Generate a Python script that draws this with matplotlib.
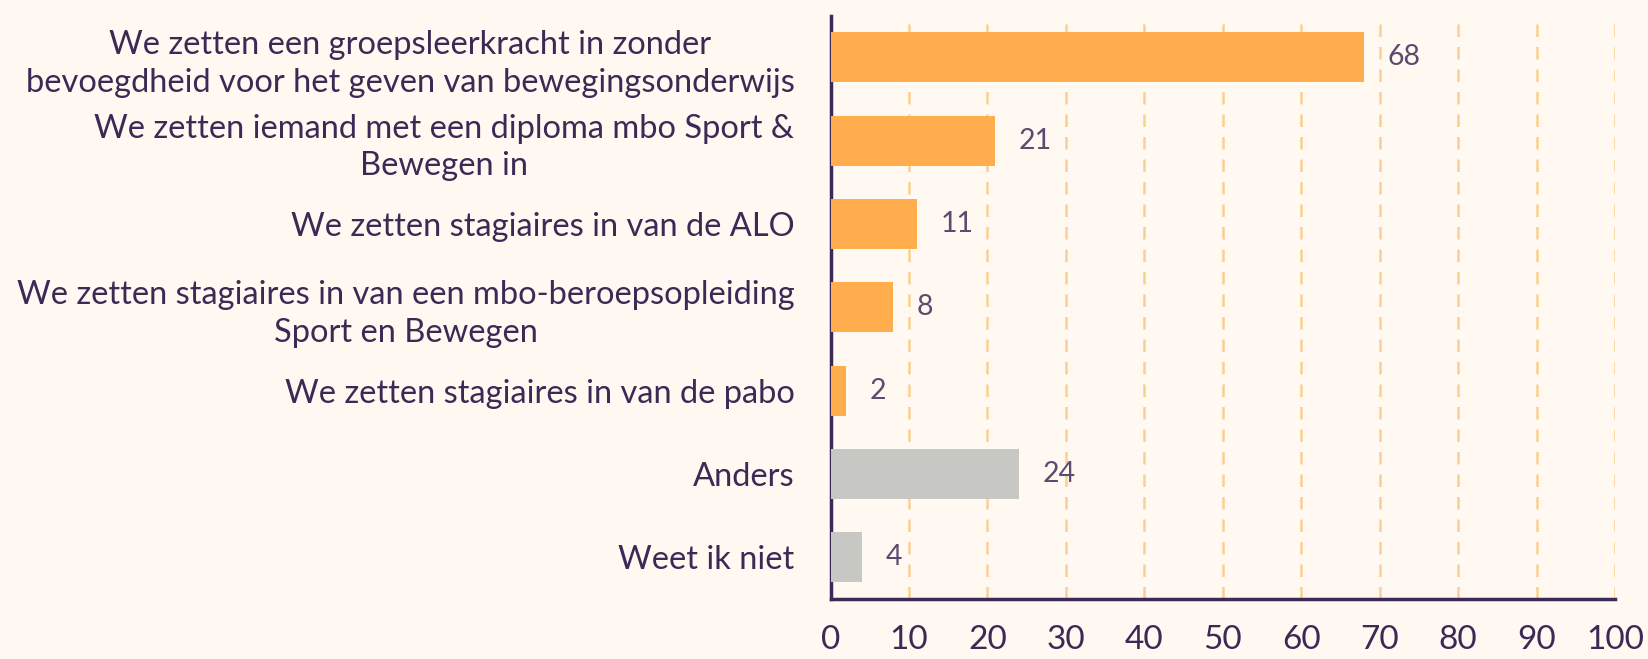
import matplotlib.pyplot as plt

categories = [
    "We zetten een groepsleerkracht in zonder\nbevoegdheid voor het geven van bewegingsonderwijs",
    "We zetten iemand met een diploma mbo Sport &\nBewegen in",
    "We zetten stagiaires in van de ALO",
    "We zetten stagiaires in van een mbo-beroepsopleiding\nSport en Bewegen",
    "We zetten stagiaires in van de pabo",
    "Anders",
    "Weet ik niet",
]
values = [68, 21, 11, 8, 2, 24, 4]
bar_colors = ["#FFAD4D"] * 5 + ["#C7C7C3"] * 2
xticks = [0, 10, 20, 30, 40, 50, 60, 70, 80, 90, 100]

purple = "#3B2A56"
bg = "#FFF9F2"

plt.rcParams['font.family'] = ['Lato', 'DejaVu Sans']

fig = plt.figure(figsize=(16.48, 6.59), dpi=100, facecolor=bg)
ax = fig.add_axes([0.504, 0.091, 0.476, 0.885], facecolor=bg)

y = list(range(len(values)))
ax.barh(y, values, height=0.6, color=bar_colors, zorder=3)

for i, v in enumerate(values):
    ax.text(v + 3, i, str(v), va='center', ha='left', fontsize=20.5,
            color="#5A4C6E", zorder=4)

ax.set_xlim(0, 100)
ax.set_ylim(6.5, -0.5)
ax.set_yticks(y)
ax.set_yticklabels(categories, fontsize=23.5, color=purple,
                   multialignment='center', linespacing=1.3)
ax.set_xticks(xticks)
ax.set_xticklabels([str(t) for t in xticks], fontsize=24, color=purple)
ax.tick_params(axis='both', length=0)
ax.tick_params(axis='y', pad=26)
ax.tick_params(axis='x', pad=19)

ax.grid(axis='x', color='#F9CF94', linestyle=(0, (5, 4)), linewidth=1.8, zorder=0)
ax.spines['top'].set_visible(False)
ax.spines['right'].set_visible(False)
ax.spines['left'].set_color(purple)
ax.spines['bottom'].set_color(purple)
ax.spines['left'].set_linewidth(2.5)
ax.spines['bottom'].set_linewidth(2.5)

fig.savefig("out.png", dpi=100, facecolor=bg)
